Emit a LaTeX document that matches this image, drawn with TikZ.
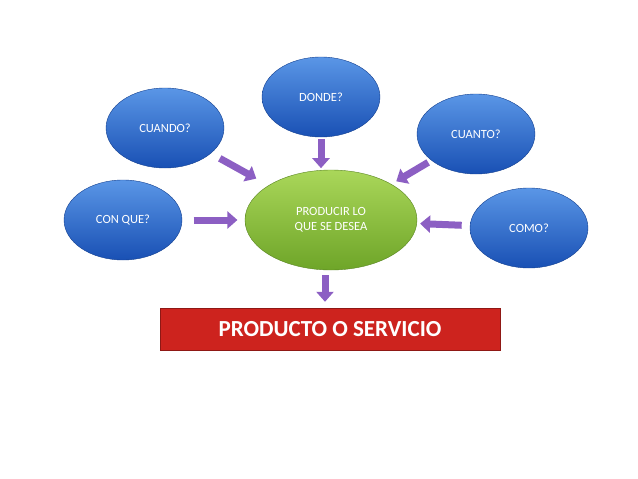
\documentclass[tikz,border=0pt]{standalone}
\usepackage{fontspec}
\setmainfont{Carlito}
\usetikzlibrary{calc,arrows.meta,shapes.geometric}
\definecolor{bluetop}{RGB}{90,150,230}
\definecolor{bluebot}{RGB}{25,80,180}
\definecolor{greentop}{RGB}{170,215,90}
\definecolor{greenbot}{RGB}{110,165,40}
\definecolor{redbox}{RGB}{205,35,30}
\definecolor{arrowpurple}{RGB}{140,95,195}
\begin{document}
\begin{tikzpicture}[x=1pt,y=-1pt]
         \tikzset{question/.style={ellipse,minimum width=118pt,minimum height=80pt,
            top color=bluetop,bottom color=bluebot,draw=bluebot!80!black,text=white,font=\fontsize{12.5}{15}\selectfont}}
         \tikzset{blockarrow/.style={line width=7pt,arrowpurple,-{Triangle[width=17pt,length=10pt]}}}
         \useasboundingbox (0,0) rectangle (638,479);
         \node[question] (donde) at (321,97) {DONDE?};
         \node[question] (cuando) at (165,128) {CUANDO?};
         \node[question] (cuanto) at (476,134) {CUANTO?};
         \node[question] (conque) at (123,220) {CON QUE?};
         \node[question] (como) at (529,228) {COMO?};
         \node[ellipse,minimum width=172pt,minimum height=100pt,top color=greentop,bottom color=greenbot,
            draw=greenbot!80!black,text=white,align=center,font=\fontsize{12.5}{15}\selectfont] (centro) at (331,220)
            {PRODUCIR LO\\QUE SE DESEA};
         \node[minimum width=340pt,minimum height=42pt,fill=redbox,draw=redbox!70!black,text=white,
            font=\bfseries\fontsize{23}{27}\selectfont] (producto) at (330,329) {PRODUCTO O SERVICIO};
         % flechas hacia el centro
         \draw[blockarrow] ($(donde.south)+(0,2)$) -- ($(donde.south)+(0,31)$);
         \draw[blockarrow] ($(cuando.center)!0.33!(centro.center)$) -- ($(cuando.center)!0.55!(centro.center)$);
         \draw[blockarrow] ($(cuanto.center)!0.33!(centro.center)$) -- ($(cuanto.center)!0.55!(centro.center)$);
         \draw[blockarrow] ($(conque.center)!0.34!(centro.center)$) -- ($(conque.center)!0.55!(centro.center)$);
         \draw[blockarrow] ($(como.center)!0.34!(centro.center)$) -- ($(como.center)!0.55!(centro.center)$);
         \draw[blockarrow] ($(centro.south)+(-6,5)$) -- ($(producto.north)+(-5,-6)$);
\end{tikzpicture}
\end{document}
